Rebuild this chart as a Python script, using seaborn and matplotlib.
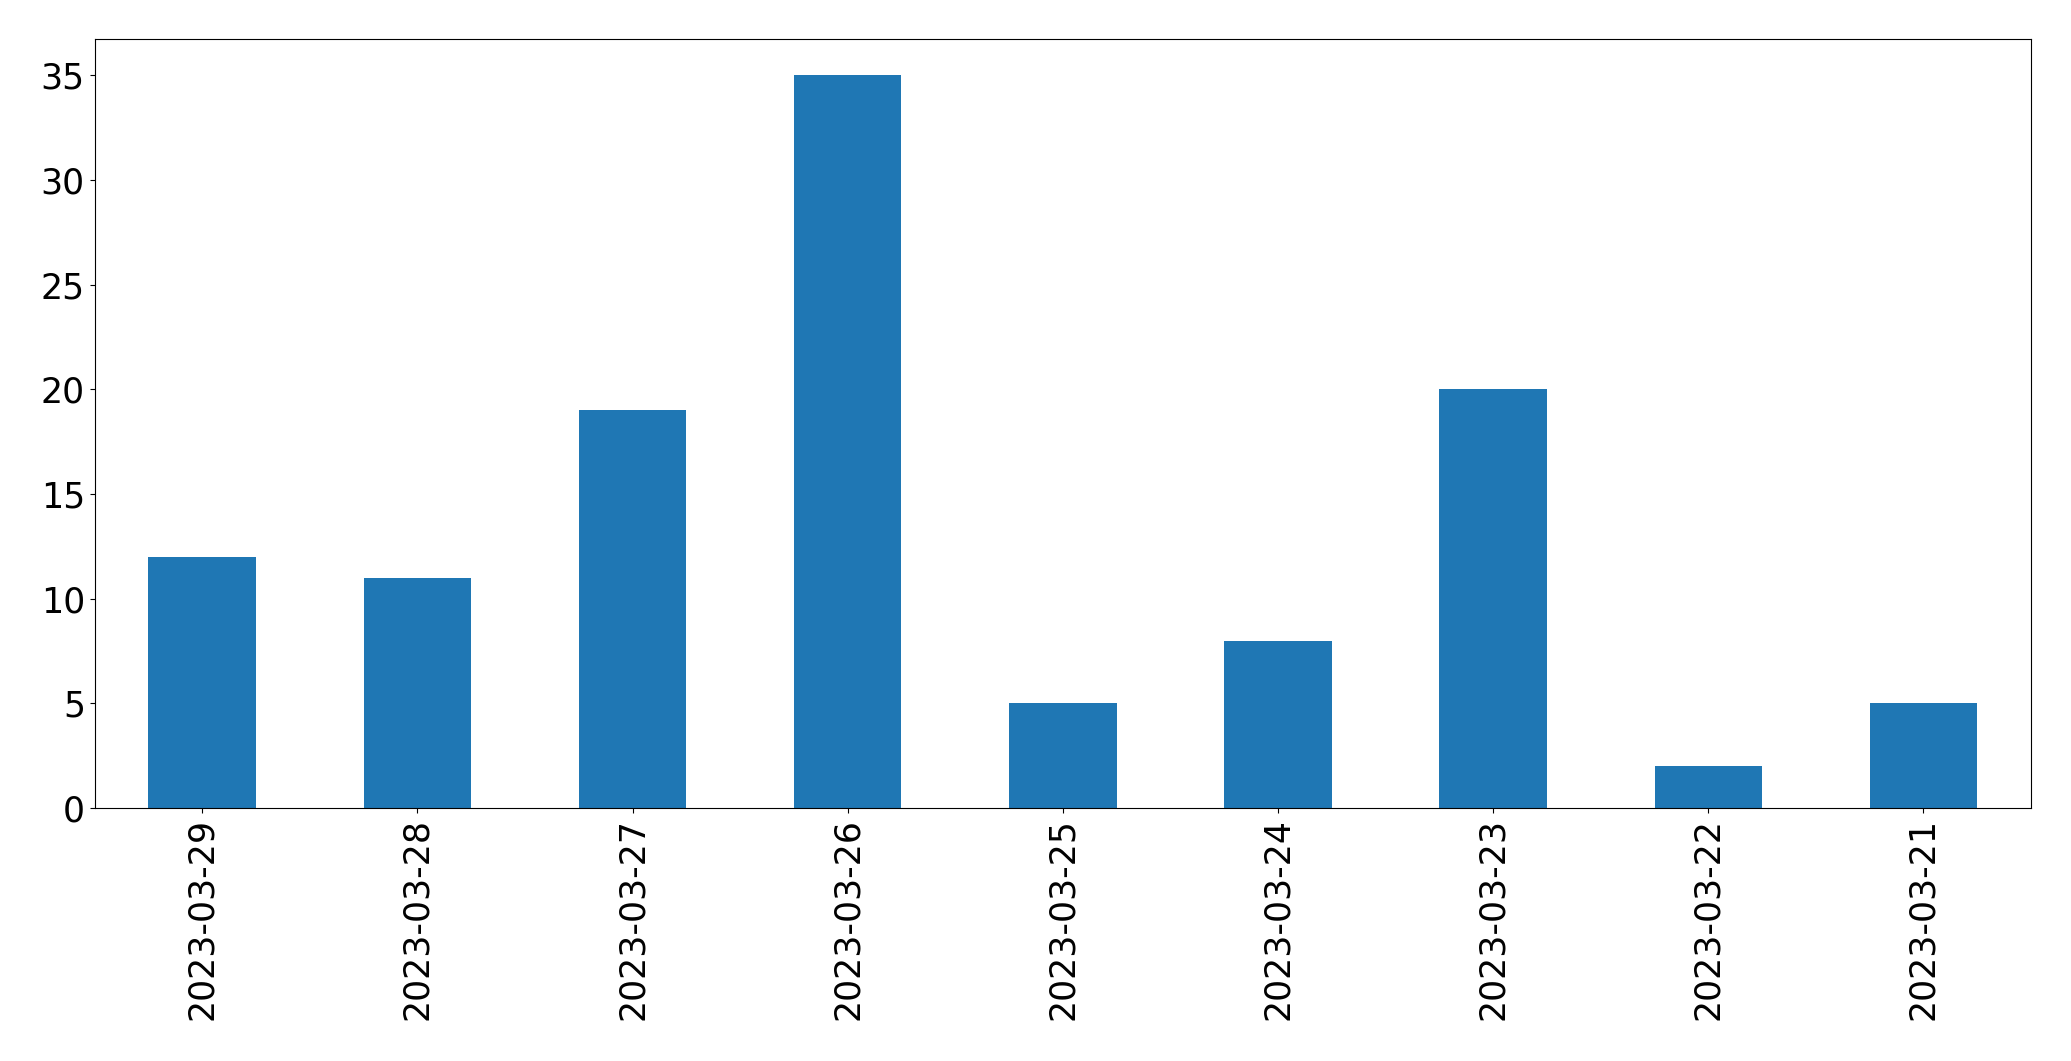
import pandas as pd
import matplotlib
matplotlib.use("Agg")
import matplotlib.pyplot as plt
import seaborn as sns

dates = ["2023-03-29", "2023-03-28", "2023-03-27", "2023-03-26", "2023-03-25",
         "2023-03-24", "2023-03-23", "2023-03-22", "2023-03-21"]
counts = [12, 11, 19, 35, 5, 8, 20, 2, 5]

df = pd.DataFrame({"date": dates, "count": counts})

fig = plt.figure(figsize=(20.71, 10.61), dpi=100)
ax = fig.add_axes([0.0457, 0.2385, 0.935, 0.7250])
sns.barplot(data=df, x="date", y="count", color="#1f77b4", saturation=1,
            width=0.5, ax=ax)
ax.set_xlim(-0.5, len(dates) - 0.5)
ax.set_ylim(0, max(counts) * 1.05)
ax.set_xlabel("")
ax.set_ylabel("")
ax.tick_params(axis="both", labelsize=25)
ax.tick_params(axis="x", labelrotation=90)

fig.savefig("out.png", dpi=100)
